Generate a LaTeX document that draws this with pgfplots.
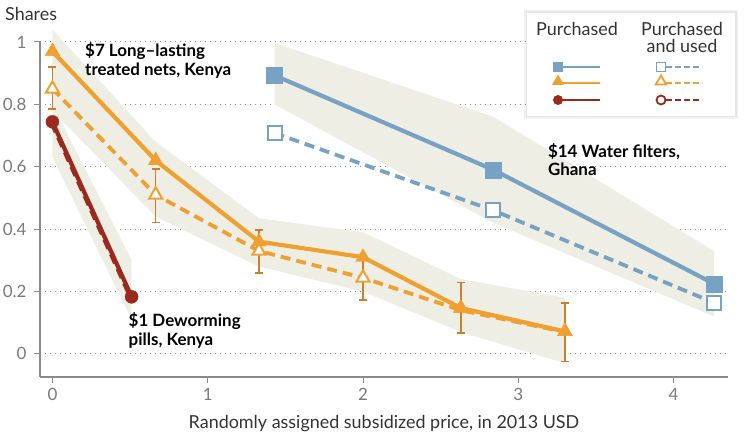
\documentclass[border=0pt]{standalone}
\usepackage{fontspec}
\setmainfont{Lato}
\usepackage{pgfplots}
\pgfplotsset{compat=1.18}
\usetikzlibrary{shapes.geometric}

\definecolor{orng}{HTML}{F0A030}
\definecolor{blu}{HTML}{78A2C4}
\definecolor{dred}{HTML}{9A2A1E}
\definecolor{band}{HTML}{EFEEE4}
\definecolor{errc}{HTML}{C8802E}
\definecolor{gridc}{HTML}{8C8C8C}
\definecolor{axc}{HTML}{8A8A8A}
\definecolor{tickc}{HTML}{7A7A7A}
\definecolor{txt}{HTML}{333333}

\begin{document}
\begin{tikzpicture}
\path[use as bounding box] (-40bp,-59bp) rectangle (710bp,377bp);
\begin{axis}[
  at={(0,0)}, anchor=south west,
  scale only axis, width=688bp, height=335bp,
  xmin=-0.08, xmax=4.35, ymin=-0.074, ymax=1.0,
  axis x line*=bottom, axis y line*=left,
  axis line style={axc, line width=1.2bp, -},
  xtick={0,1,2,3,4}, ytick={0,0.2,0.4,0.6,0.8,1},
  tick style={axc, line width=1bp},
  tick align=outside, major tick length=6bp,
  ymajorgrids, grid style={gridc, line width=1bp, dash pattern=on 1.2bp off 3.8bp},
  ticklabel style={font=\fontsize{17}{17}\selectfont, text=tickc},
  yticklabel style={xshift=-4bp},
  xticklabel style={yshift=-2bp},
  /pgf/number format/assume math mode=true,
  xlabel={Randomly assigned subsidized price, in 2013 USD},
  xlabel style={font=\fontsize{18}{18}\selectfont, text=txt, yshift=-8bp},
  clip=false,
]
% shaded bands
\addplot[fill=band, draw=none, forget plot] coordinates {
  (0,1.04) (0.665,0.68) (1.33,0.435) (2,0.39) (2.63,0.24) (3.3,0.18)
  (3.3,-0.03) (2.63,0.07) (2,0.20) (1.33,0.28) (0.665,0.44) (0,0.78)} -- cycle;
\addplot[fill=band, draw=none, forget plot] coordinates {
  (0,0.80) (0.51,0.30) (0.51,0.11) (0,0.63)} -- cycle;
\addplot[fill=band, draw=none, forget plot] coordinates {
  (1.43,0.997) (2.84,0.76) (4.26,0.33) (4.26,0.12) (2.84,0.42) (1.43,0.80)} -- cycle;

% purchased and used (dashed)
\addplot[orng, line width=3.8bp, dash pattern=on 10bp off 6bp, forget plot] coordinates {
  (0,0.85) (0.665,0.51) (1.33,0.33) (2,0.244) (2.63,0.14) (3.3,0.07)};
\addplot[dred, line width=3.8bp, dash pattern=on 10bp off 6bp, forget plot] coordinates {
  (-0.006,0.74) (0.503,0.18)};
\addplot[blu, line width=3.8bp, dash pattern=on 10bp off 6bp, forget plot] coordinates {
  (1.43,0.708) (2.84,0.46) (4.26,0.164)};

% purchased (solid)
\addplot[orng, line width=4.2bp, forget plot] coordinates {
  (0,0.97) (0.665,0.62) (1.33,0.36) (2,0.31) (2.63,0.147) (3.3,0.072)};
\addplot[dred, line width=4.2bp, forget plot] coordinates {
  (0,0.744) (0.51,0.183)};
\addplot[blu, line width=4.2bp, forget plot] coordinates {
  (1.43,0.893) (2.84,0.59) (4.26,0.225)};

% filled markers
\addplot[only marks, mark=triangle*, mark size=8.5bp, orng, forget plot] coordinates {
  (0,0.97) (0.665,0.62) (1.33,0.36) (2,0.31) (2.63,0.147) (3.3,0.072)};
\addplot[only marks, mark=*, mark size=6.5bp, dred, forget plot] coordinates {
  (0,0.744) (0.51,0.183)};
\addplot[only marks, mark=square*, mark size=8bp, blu, forget plot] coordinates {
  (1.43,0.893) (2.84,0.59) (4.26,0.225)};

% error bars of purchased and used nets
\addplot[only marks, mark=none, forget plot, error bars/.cd, y dir=both, y explicit,
  error bar style={errc, line width=1.5bp},
  error mark options={rotate=90, mark size=4bp, line width=1.5bp, errc}] coordinates {
  (0,0.85) += (0,0.07) -= (0,0.065)
  (0.665,0.51) += (0,0.083) -= (0,0.089)
  (1.33,0.33) += (0,0.067) -= (0,0.071)
  (2,0.244) += (0,0.068) -= (0,0.071)
  (2.63,0.14) += (0,0.089) -= (0,0.073)
  (3.3,0.07) += (0,0.094) -= (0,0.095)};

% open markers
\addplot[only marks, mark=triangle*, mark size=7.5bp, orng, mark options={fill=white, line width=2bp}, forget plot] coordinates {
  (0,0.85) (0.665,0.51) (1.33,0.33) (2,0.244)};
\addplot[only marks, mark=square*, mark size=7bp, blu, mark options={fill=white, line width=2bp}, forget plot] coordinates {
  (1.43,0.708) (2.84,0.46) (4.26,0.164)};
% last two points redrawn filled on top
\addplot[only marks, mark=triangle*, mark size=8.5bp, orng, forget plot] coordinates {
  (2.63,0.147) (3.3,0.072)};

% annotations
\node[anchor=north west, align=left, inner sep=0, font=\bfseries\fontsize{17}{18.5}\selectfont]
  at (axis cs:0.21,0.998) {\$7 Long–lasting\\treated nets, Kenya};
\node[anchor=north west, align=left, inner sep=0, font=\bfseries\fontsize{17}{18.5}\selectfont]
  at (axis cs:3.19,0.675) {\$14 Water filters,\\Ghana};
\node[anchor=north west, align=left, inner sep=0, font=\bfseries\fontsize{17}{18.5}\selectfont]
  at (axis cs:0.49,0.133) {\$1 Deworming\\pills, Kenya};
\end{axis}

% y axis title
\node[anchor=base west, inner sep=0, font=\fontsize{18}{18}\selectfont, text=txt] at (-35bp,356bp) {Shares};

% legend
\fill[black, opacity=0.05] (484bp,258bp) rectangle (698bp,367bp);
\fill[black, opacity=0.05] (485.5bp,259.5bp) rectangle (696.5bp,365.5bp);
\fill[white] (487bp,261bp) rectangle (695bp,364bp);
\node[anchor=base, inner sep=0, font=\fontsize{18}{18}\selectfont, text=txt] at (537bp,341bp) {Purchased};
\node[anchor=base, inner sep=0, font=\fontsize{18}{18}\selectfont, text=txt] at (642bp,341bp) {Purchased};
\node[anchor=base, inner sep=0, font=\fontsize{18}{18}\selectfont, text=txt] at (642bp,324bp) {and used};

\draw[blu, line width=2.8bp] (518bp,310bp) -- (560bp,310bp);
\node[fill=blu, minimum size=10bp, inner sep=0] at (518bp,310bp) {};
\draw[orng, line width=2.8bp] (518bp,294bp) -- (560bp,294bp);
\node[regular polygon, regular polygon sides=3, fill=orng, minimum size=14bp, inner sep=0] at (518bp,295.5bp) {};
\draw[dred, line width=2.8bp] (518bp,277bp) -- (560bp,277bp);
\node[circle, fill=dred, minimum size=10bp, inner sep=0] at (518bp,277bp) {};

\draw[blu, line width=2.8bp, dash pattern=on 6bp off 3bp] (626bp,310bp) -- (662bp,310bp);
\node[draw=blu, line width=1.8bp, fill=white, minimum size=9bp, inner sep=0] at (621bp,310bp) {};
\draw[orng, line width=2.8bp, dash pattern=on 6bp off 3bp] (626bp,294bp) -- (662bp,294bp);
\node[regular polygon, regular polygon sides=3, draw=orng, line width=1.8bp, fill=white, minimum size=12bp, inner sep=0] at (621bp,295.5bp) {};
\draw[dred, line width=2.8bp, dash pattern=on 6bp off 3bp] (626bp,277bp) -- (662bp,277bp);
\node[circle, draw=dred, line width=1.8bp, fill=white, minimum size=9bp, inner sep=0] at (621bp,277bp) {};
\end{tikzpicture}
\end{document}
